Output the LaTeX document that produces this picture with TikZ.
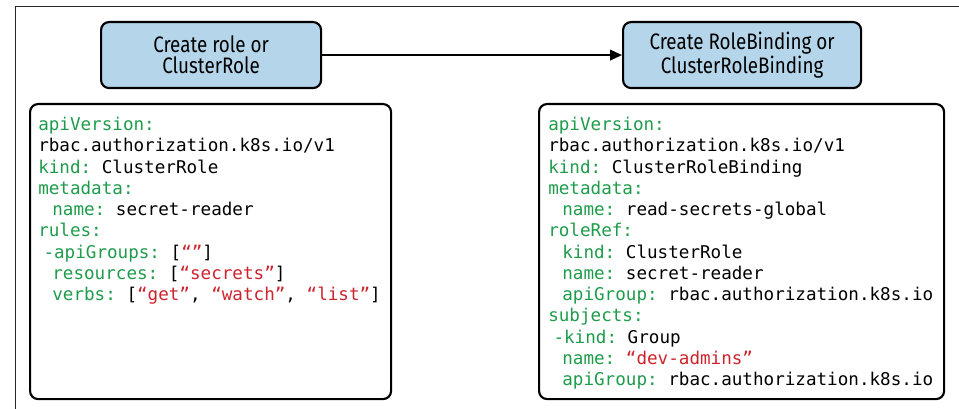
\documentclass[tikz,border=0pt]{standalone}
\usepackage{fontspec}
\usetikzlibrary{arrows.meta}
\newfontfamily\headfont[FakeStretch=0.84]{Fira Sans}
\newfontfamily\codefont{DejaVu Sans Mono}
\frenchspacing
\definecolor{kgreen}{RGB}{30,155,75}
\definecolor{kred}{RGB}{205,35,45}
\definecolor{kblue}{RGB}{180,213,234}
\newcommand{\kk}[1]{\textcolor{kgreen}{#1}}
\newcommand{\kv}[1]{\textcolor{kred}{#1}}
\newcommand{\ind}{\hspace*{0.8em}}
\newcommand{\dind}{\hspace*{0.3em}}
\tikzset{
  frameline/.style={line width=0.8pt, draw=black!85},
  headbox/.style={draw, line width=1.6pt, fill=kblue, rounded corners=6pt, inner sep=0pt},
  headtext/.style={font=\headfont\fontsize{16.8}{15.9}\selectfont, align=center, inner sep=0pt},
  codebox/.style={draw, line width=1.6pt, rounded corners=6pt, inner sep=0pt},
  codetext/.style={font=\codefont\fontsize{13.2}{15.94}\selectfont, align=left, inner sep=0pt, anchor=north west},
  flow/.style={line width=1.2pt, -{Triangle[length=9pt,width=8pt]}}
}
\begin{document}
\begin{tikzpicture}[x=0.75pt, y=-0.75pt]
\useasboundingbox (0,0) rectangle (959,409);
% outer frame (cropped)
\coordinate (ftl) at (15.5,6.5);
\coordinate (ftr) at (959,6.5);
\coordinate (fbl) at (15.5,409);
\draw[frameline] (ftr) -- (ftl) -- (fbl);
% header boxes
\node[headbox, minimum width=220*0.75pt, minimum height=66*0.75pt, anchor=north west] (hl) at (100,21) {};
\node[headtext] (hlt) at (hl.center) {Create role or\\ClusterRole};
\node[headbox, minimum width=238*0.75pt, minimum height=66*0.75pt, anchor=north west] (hr) at (622,21) {};
\node[headtext] (hrt) at (hr.center) {Create RoleBinding or\\ClusterRoleBinding};
\draw[flow] (hl.east) -- (hr.west);
% code boxes
\node[codebox, minimum width=361*0.75pt, minimum height=295*0.75pt, anchor=north west] (cl) at (29,103) {};
\node[codebox, minimum width=405*0.75pt, minimum height=295*0.75pt, anchor=north west] (cr) at (538,103) {};
\node[codetext] (tl) at (38,117) {%
\kk{apiVersion:}\\
rbac.authorization.k8s.io/v1\\
\kk{kind:} ClusterRole\\
\kk{metadata:}\\
\ind\kk{name:} secret-reader\\
\kk{rules:}\\
\dind\kk{-apiGroups:} [\kv{“”}]\\
\ind\kk{resources:} [\kv{“secrets”}]\\
\ind\kk{verbs:} [\kv{“get”}, \kv{“watch”}, \kv{“list”}]};
\node[codetext] (tr) at (548,117) {%
\kk{apiVersion:}\\
rbac.authorization.k8s.io/v1\\
\kk{kind:} ClusterRoleBinding\\
\kk{metadata:}\\
\ind\kk{name:} read-secrets-global\\
\kk{roleRef:}\\
\ind\kk{kind:} ClusterRole\\
\ind\kk{name:} secret-reader\\
\ind\kk{apiGroup:} rbac.authorization.k8s.io\\
\kk{subjects:}\\
\dind\kk{-kind:} Group\\
\ind\kk{name:} \kv{“dev-admins”}\\
\ind\kk{apiGroup:} rbac.authorization.k8s.io};
\end{tikzpicture}
\end{document}
